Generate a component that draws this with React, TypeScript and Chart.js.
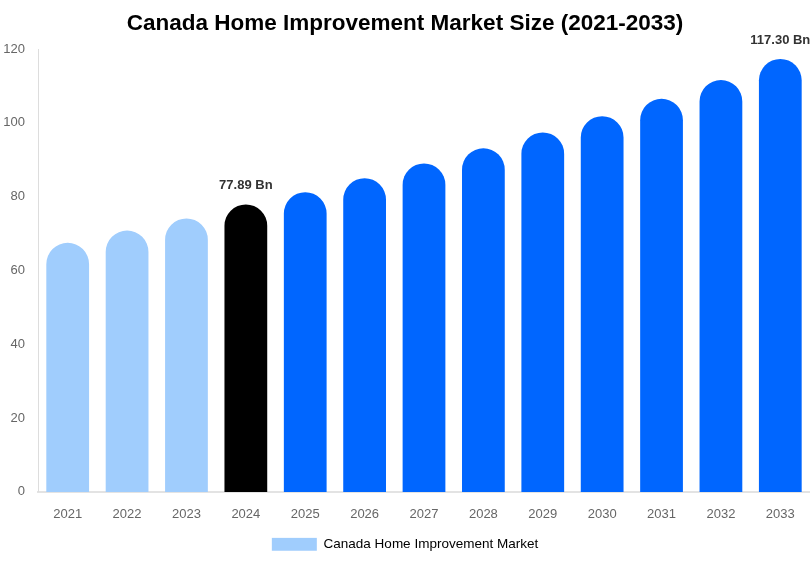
import React, { useEffect, useRef } from 'react';
import Chart from 'chart.js/auto';

const years = ['2021', '2022', '2023', '2024', '2025', '2026', '2027', '2028', '2029', '2030', '2031', '2032', '2033'];
const marketSize = [67.5, 70.8, 74.1, 77.89, 81.2, 85.0, 89.0, 93.1, 97.4, 101.8, 106.5, 111.6, 117.3];
const labelledYears = ['2024', '2033'];
const yTicks = [0, 20, 40, 60, 80, 100, 120];

const LIGHT = '#a0cdfd';
const DARK = '#000000';
const BLUE = '#0066ff';
const FONT = "'Liberation Sans', Arial, sans-serif";

const barColors = years.map(y => (Number(y) < 2024 ? LIGHT : y === '2024' ? DARK : BLUE));

const App: React.FC = () => {
  const canvasRef = useRef<HTMLCanvasElement>(null);
  const chartRef = useRef<any>(null);

  useEffect(() => {
    document.body.style.margin = '0';
    if (!canvasRef.current) return;

    // Draw value labels above selected bars
    const valueLabels = {
      id: 'valueLabels',
      afterDatasetsDraw: (chart: any) => {
        const { ctx } = chart;
        const meta = chart.getDatasetMeta(0);
        ctx.save();
        ctx.fillStyle = '#333333';
        ctx.font = `bold 13px ${FONT}`;
        ctx.textAlign = 'center';
        ctx.textBaseline = 'bottom';
        meta.data.forEach((bar: any, i: number) => {
          if (!labelledYears.includes(years[i])) return;
          ctx.fillText(`${marketSize[i].toFixed(2)} Bn`, bar.x, bar.y - 12);
        });
        ctx.restore();
      }
    };

    chartRef.current = new Chart(canvasRef.current.getContext('2d')!, {
      type: 'bar',
      data: {
        labels: years,
        datasets: [{
          label: 'Canada Home Improvement Market',
          data: marketSize,
          backgroundColor: barColors,
          borderRadius: 100,
          borderSkipped: 'bottom',
          categoryPercentage: 0.72,
          barPercentage: 1,
        }]
      },
      options: {
        animation: false,
        responsive: true,
        maintainAspectRatio: false,
        layout: { padding: { left: 0, right: 0, top: 0, bottom: 1 } },
        scales: {
          x: {
            grid: { display: false, drawTicks: false },
            border: { display: true, color: '#e3e3e3', width: 2 },
            ticks: { color: '#666666', font: { size: 13, family: FONT }, padding: 15 },
          },
          y: {
            min: 0,
            max: 120,
            afterBuildTicks: (axis: any) => { axis.ticks = yTicks.map(v => ({ value: v })); },
            afterFit: (axis: any) => { axis.width = 38; },
            grid: { display: false, drawTicks: false },
            border: { display: true, color: '#dddddd', width: 1 },
            ticks: { color: '#666666', font: { size: 13, family: FONT }, padding: 13 },
          }
        },
        plugins: {
          title: {
            display: true,
            text: 'Canada Home Improvement Market Size (2021-2033)',
            color: '#000000',
            font: { size: 22.5, weight: 'bold', family: FONT },
            padding: { top: 10, bottom: 12 },
          },
          legend: {
            position: 'bottom',
            labels: {
              color: '#666666',
              font: { size: 13.5, family: FONT },
              boxWidth: 45,
              boxHeight: 13,
              padding: 0,
              generateLabels: () => [{
                text: 'Canada Home Improvement Market',
                fillStyle: LIGHT,
                strokeStyle: LIGHT,
                lineWidth: 0,
                hidden: false,
                datasetIndex: 0,
              }],
            },
          },
          tooltip: { enabled: false },
        }
      },
      plugins: [valueLabels]
    });

    return () => {
      if (chartRef.current) { chartRef.current.destroy(); chartRef.current = null; }
    };
  }, []);

  return (
    <div style={{ position: 'relative', width: '810px', height: '562px', background: '#ffffff' }}>
      <canvas ref={canvasRef}></canvas>
    </div>
  );
};

export default App;
